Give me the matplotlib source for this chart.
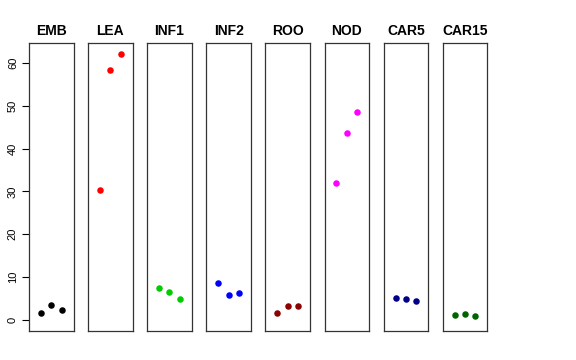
import matplotlib
matplotlib.use('Agg')
import matplotlib.pyplot as plt

plt.rcParams['font.family'] = ['Liberation Sans', 'DejaVu Sans']

tissues = ['EMB', 'LEA', 'INF1', 'INF2', 'ROO', 'NOD', 'CAR5', 'CAR15']
colors = ['black', 'red', '#00CD00', 'blue', '#8B0000', 'magenta', '#00008B', '#006400']
values = [
    [1.7, 3.4, 2.2],
    [30.4, 58.5, 62.2],
    [7.5, 6.6, 4.8],
    [8.7, 5.8, 6.2],
    [1.6, 3.3, 3.3],
    [31.9, 43.7, 48.6],
    [5.1, 4.9, 4.4],
    [1.2, 1.4, 0.9],
]
reps = [1, 2, 3]
yticks = [0, 10, 20, 30, 40, 50, 60]

W, H = 576, 360
fig = plt.figure(figsize=(W / 100, H / 100), dpi=100)

left0, step, pw = 29, 59.1, 44.5
bottom, top = 331, 43

for i, (name, col, vals) in enumerate(zip(tissues, colors, values)):
    ax = fig.add_axes([(left0 + i * step) / W, (H - bottom) / H, pw / W, (bottom - top) / H])
    ax.scatter(reps, vals, s=22, color=col, zorder=3, linewidths=0)
    ax.set_xlim(-0.16, 4.16)
    ax.set_ylim(-2.6, 64.7)
    ax.set_xticks([])
    ax.set_title(name, fontsize=10, fontweight='bold', pad=6)
    for s in ax.spines.values():
        s.set_color('#333333')
        s.set_linewidth(0.9)
    if i == 0:
        ax.set_yticks(yticks)
        ax.set_yticklabels([str(t) for t in yticks], rotation=90, va='center', fontsize=8)
        ax.tick_params(axis='y', length=5, width=0.8, pad=3)
    else:
        ax.set_yticks([])

fig.savefig('out.png', dpi=100)
